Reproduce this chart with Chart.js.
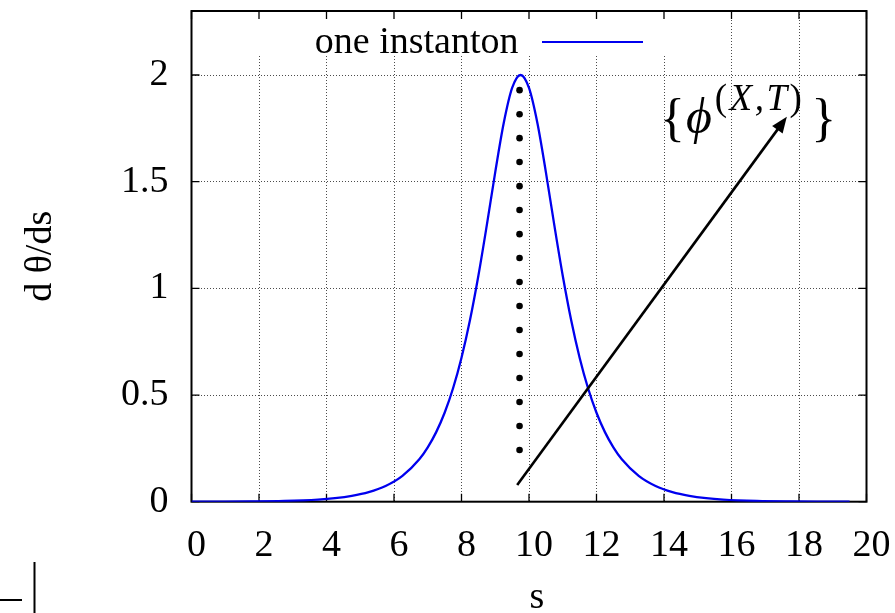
<!DOCTYPE html>
<html>
<head>
<meta charset="utf-8">
<script src="https://cdn.jsdelivr.net/npm/chart.js@4/dist/chart.umd.min.js"></script>
<style>
  html, body { margin: 0; padding: 0; background: #fff; }
  canvas { display: block; }
</style>
</head>
<body>
<canvas id="c" width="895" height="613"></canvas>
<script>
// Profile of the one-instanton solution, d theta / ds against s
const sValues = [
  0, 0.75, 1.75, 2.75, 3.75, 4.25, 4.75, 5.25, 5.75, 6.25, 6.75, 7, 7.25, 7.5, 7.75,
  8, 8.25, 8.5, 8.75, 9, 9.25, 9.5, 9.75, 10, 10.25, 10.5, 10.75, 11, 11.25, 11.5,
  11.75, 12, 12.25, 12.5, 12.75, 13.25, 13.75, 14.25, 14.75, 15.25, 15.75, 16.75,
  17.75, 18.75, 19.5
];
const dThetaValues = [
  0.0002, 0.0005, 0.0013, 0.0036, 0.0099, 0.0163, 0.027, 0.0444, 0.0732, 0.1207,
  0.1987, 0.2547, 0.3261, 0.417, 0.5316, 0.6747, 0.8502, 1.0591, 1.2961, 1.5448,
  1.7737, 1.9392, 2.0, 1.9392, 1.7737, 1.5448, 1.2961, 1.0591, 0.8502, 0.6747,
  0.5316, 0.417, 0.3261, 0.2547, 0.1987, 0.1207, 0.0732, 0.0444, 0.027, 0.0163,
  0.0099, 0.0036, 0.0013, 0.0005, 0.0002
];

// Dotted column marking the instanton centre
const dotS = 9.72;
const dotValues = [
  0.242, 0.355, 0.467, 0.580, 0.692, 0.805, 0.917, 1.030,
  1.142, 1.254, 1.367, 1.479, 1.592, 1.704, 1.816, 1.929
];

// Axis ticks
const xTicks = [0, 2, 4, 6, 8, 10, 12, 14, 16, 18, 20];
const yTicks = [0, 0.5, 1, 1.5, 2];

// Arrow towards the family {phi^(X,T)}, in data units
const arrowFrom = [9.65, 0.078];
const arrowTo = [17.64, 1.804];
const phiLabelAnchor = [13.88, 1.728];

const legendLabel = 'one instanton';
const xTitle = 's';
const yTitle = 'd θ/ds';

const SERIF = "'Liberation Serif', 'Times New Roman', serif";
const BLUE = '#0000ee';

const decor = {
  id: 'decor',
  beforeDatasetsDraw(chart) {
    const { ctx, chartArea: a, scales: { x, y } } = chart;
    ctx.save();
    // key box covers the grid behind the legend entry
    const kx0 = x.getPixelForValue(1.4), kx1 = x.getPixelForValue(14.9);
    ctx.fillStyle = '#fff';
    ctx.fillRect(kx0, a.top, kx1 - kx0, y.getPixelForValue(2.09) - a.top);
    // frame
    ctx.strokeStyle = '#000';
    ctx.lineWidth = 2;
    ctx.strokeRect(a.left, a.top, a.right - a.left, a.bottom - a.top);
    // inward tick marks on all four sides
    ctx.lineWidth = 1.3;
    ctx.beginPath();
    const tl = 8;
    xTicks.forEach(v => {
      const px = x.getPixelForValue(v);
      ctx.moveTo(px, a.bottom); ctx.lineTo(px, a.bottom - tl);
      ctx.moveTo(px, a.top); ctx.lineTo(px, a.top + tl);
    });
    yTicks.forEach(v => {
      const py = y.getPixelForValue(v);
      ctx.moveTo(a.left, py); ctx.lineTo(a.left + tl, py);
      ctx.moveTo(a.right, py); ctx.lineTo(a.right - tl, py);
    });
    ctx.stroke();
    ctx.restore();
  },
  afterDatasetsDraw(chart) {
    const { ctx, chartArea: a, scales: { x, y } } = chart;
    ctx.save();
    ctx.fillStyle = '#000';
    ctx.strokeStyle = '#000';

    // arrow
    const x0 = x.getPixelForValue(arrowFrom[0]), y0 = y.getPixelForValue(arrowFrom[1]);
    const x1 = x.getPixelForValue(arrowTo[0]), y1 = y.getPixelForValue(arrowTo[1]);
    const ang = Math.atan2(y1 - y0, x1 - x0);
    const headL = 16, headW = 6.5;
    const bx = x1 - headL * Math.cos(ang), by = y1 - headL * Math.sin(ang);
    ctx.lineWidth = 2.6;
    ctx.lineCap = 'butt';
    ctx.beginPath();
    ctx.moveTo(x0, y0);
    ctx.lineTo(bx + 2 * Math.cos(ang), by + 2 * Math.sin(ang));
    ctx.stroke();
    ctx.beginPath();
    ctx.moveTo(x1, y1);
    ctx.lineTo(bx + headW * Math.sin(ang), by - headW * Math.cos(ang));
    ctx.lineTo(bx - headW * Math.sin(ang), by + headW * Math.cos(ang));
    ctx.closePath();
    ctx.fill();

    // label {phi^(X,T)}
    let px = x.getPixelForValue(phiLabelAnchor[0]);
    const base = y.getPixelForValue(phiLabelAnchor[1]);
    const supBase = base - 23;
    ctx.textBaseline = 'alphabetic';
    ctx.textAlign = 'left';
    ctx.font = '52px ' + SERIF;
    ctx.fillText('{', px, base + 2);
    px += ctx.measureText('{').width + 1;
    ctx.font = 'italic 50px ' + SERIF;
    ctx.fillText('ϕ', px, base);
    px += ctx.measureText('ϕ').width + 3;
    const sup = [['(', ''], ['X', 'italic '], [',', 'italic '], ['T', 'italic '], [')', '']];
    sup.forEach(([ch, st]) => {
      ctx.font = st + '37px ' + SERIF;
      ctx.fillText(ch, px, supBase);
      px += ctx.measureText(ch).width + 2.5;
    });
    ctx.font = '52px ' + SERIF;
    ctx.fillText('}', px + 7, base + 2);

    // legend entry
    ctx.font = '38px ' + SERIF;
    ctx.textAlign = 'right';
    ctx.fillText(legendLabel, 518.5, 53);
    ctx.strokeStyle = BLUE;
    ctx.lineWidth = 2.2;
    ctx.beginPath();
    ctx.moveTo(542, 42);
    ctx.lineTo(643, 42);
    ctx.stroke();

    // x axis title
    ctx.fillStyle = '#000';
    ctx.textAlign = 'center';
    ctx.font = '38px ' + SERIF;
    ctx.fillText(xTitle, (a.left + a.right) / 2 + 8, 608);

    // stray marks at the lower left corner of the page
    ctx.strokeStyle = '#000';
    ctx.lineWidth = 2;
    ctx.beginPath();
    ctx.moveTo(0, 600); ctx.lineTo(22, 600);
    ctx.moveTo(34.5, 562); ctx.lineTo(34.5, 613);
    ctx.stroke();
    ctx.restore();
  }
};

new Chart(document.getElementById('c'), {
  type: 'scatter',
  data: {
    datasets: [
      {
        label: legendLabel,
        data: sValues.map((s, i) => ({ x: s, y: dThetaValues[i] })),
        showLine: true,
        borderColor: BLUE,
        borderWidth: 2.3,
        pointRadius: 0,
        cubicInterpolationMode: 'monotone',
        fill: false,
        order: 1
      },
      {
        label: 'centre',
        data: dotValues.map(v => ({ x: dotS, y: v })),
        showLine: false,
        pointRadius: 3.3,
        pointBackgroundColor: '#000',
        pointBorderColor: '#000',
        pointBorderWidth: 0,
        order: 0
      }
    ]
  },
  options: {
    responsive: false,
    devicePixelRatio: 1,
    animation: false,
    events: [],
    layout: { padding: { top: 11, right: 28.5, left: 0, bottom: 0 } },
    plugins: { legend: { display: false }, tooltip: { enabled: false } },
    scales: {
      x: {
        type: 'linear',
        min: 0,
        max: 20,
        afterBuildTicks: s => { s.ticks = xTicks.map(v => ({ value: v })); },
        afterFit: s => { s.height = 111.3; s.paddingLeft = 0; s.paddingRight = 0; },
        ticks: {
          color: '#000',
          font: { family: SERIF, size: 38 },
          padding: 22,
          labelOffset: 5,
          maxRotation: 0,
          autoSkip: false
        },
        grid: { color: 'rgba(0,0,0,0.7)', lineWidth: 1, drawTicks: false },
        border: { display: false, dash: [1, 2] },
        title: { display: false, text: xTitle }
      },
      y: {
        type: 'linear',
        min: 0,
        max: 2.3,
        afterBuildTicks: s => { s.ticks = yTicks.map(v => ({ value: v })); },
        afterFit: s => { s.width = 191.5; s.paddingTop = 0; s.paddingBottom = 0; },
        ticks: {
          color: '#000',
          font: { family: SERIF, size: 38 },
          padding: 23,
          includeBounds: false,
          callback: v => String(v)
        },
        grid: { color: 'rgba(0,0,0,0.7)', lineWidth: 1, drawTicks: false },
        border: { display: false, dash: [1, 2] },
        title: {
          display: true,
          text: yTitle,
          color: '#000',
          font: { family: SERIF, size: 38 },
          padding: { top: 18, bottom: 0 }
        }
      }
    }
  },
  plugins: [decor]
});
</script>
</body>
</html>
